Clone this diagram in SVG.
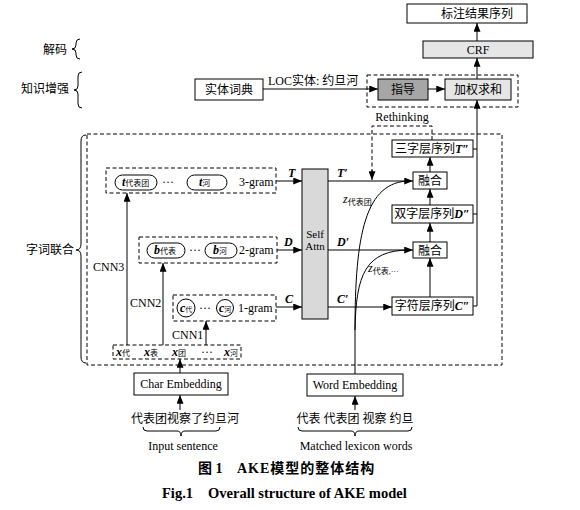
<svg xmlns="http://www.w3.org/2000/svg" width="580" height="510" viewBox="0 0 580 510">
<defs>
<marker id="ah" viewBox="0 0 10 8" refX="10" refY="4" markerWidth="9" markerHeight="7" orient="auto" markerUnits="userSpaceOnUse"><path d="M0,0 L10,4 L0,8 z" fill="#000"/></marker>
<style>
text{font-family:"Liberation Serif","Noto Sans CJK SC",serif;font-size:12px;fill:#000}
.box{fill:#fff;stroke:#000;stroke-width:1}
.g1{fill:#e6e6e6;stroke:#000;stroke-width:1}
.g2{fill:#a6a6a6;stroke:#000;stroke-width:1}
.g3{fill:#d9d9d9;stroke:#000;stroke-width:1}
.dash{fill:none;stroke:#000;stroke-width:1;stroke-dasharray:4 2.5}
.ln{fill:none;stroke:#000;stroke-width:1}
.arr{fill:none;stroke:#000;stroke-width:1;marker-end:url(#ah)}
.bi{font-weight:bold;font-style:italic}
.sub{font-size:8px}
.c{text-anchor:middle}
.cap{font-weight:bold}
</style>
</defs>
<rect width="580" height="510" fill="#fff"/>

<g id="labels">
<text x="67" y="54" text-anchor="end">解码</text>
<path class="ln" d="M80,39 Q76,39 76,43 L76,45 Q76,49 72,49 Q76,49 76,53 L76,55 Q76,59 80,59"/>
<text x="69" y="93" text-anchor="end">知识增强</text>
<path class="ln" d="M82,72 Q78,72 78,76 L78,86 Q78,90 74,90 Q78,90 78,94 L78,104 Q78,108 82,108"/>
<text x="74" y="254" text-anchor="end">字词联合</text>
<path class="ln" d="M86,135 Q81,135 81,141 L81,244 Q81,250 76,250 Q81,250 81,256 L81,357 Q81,363 86,363"/>
</g>

<g id="output">
<rect class="box" x="407" y="4" width="120" height="19"/>
<text x="441" y="18">标注结果序列</text>
</g>
<g id="crf">
<rect class="g1" x="423" y="41" width="110" height="17"/>
<text x="478" y="54" class="c">CRF</text>
</g>

<g id="knowledge">
<rect class="dash" x="367" y="75" width="151" height="32"/>
</g>
<g id="dict">
<rect class="box" x="195" y="79" width="68" height="21"/>
<text x="229" y="94" class="c">实体词典</text>
</g>
<g id="guide">
<rect class="g2" x="378" y="79" width="50" height="21"/>
<text x="403" y="94" class="c">指导</text>
</g>
<g id="wsum">
<rect class="g1" x="445" y="79" width="66" height="21"/>
<text x="478" y="94" class="c">加权求和</text>
</g>

<g id="joint">
<rect class="dash" x="87" y="134" width="415" height="231"/>
</g>

<g id="gram3">
<rect class="dash" x="106" y="168" width="170" height="25"/>
<rect class="box" x="115" y="175" width="42" height="15" rx="7.5"/>
<text x="122" y="186"><tspan class="bi">t</tspan><tspan class="sub">代表团</tspan></text>
<text x="168" y="186" class="c">···</text>
<rect class="box" x="187" y="175" width="40" height="15" rx="7.5"/>
<text x="199" y="186"><tspan class="bi">t</tspan><tspan class="sub">河</tspan></text>
<text x="239" y="186">3-gram</text>
</g>

<g id="gram2">
<rect class="dash" x="139" y="237" width="138" height="26"/>
<rect class="box" x="147" y="243" width="38" height="15" rx="7.5"/>
<text x="154" y="254"><tspan class="bi">b</tspan><tspan class="sub">代表</tspan></text>
<text x="195" y="254" class="c">···</text>
<rect class="box" x="205" y="243" width="32" height="15" rx="7.5"/>
<text x="213" y="254"><tspan class="bi">b</tspan><tspan class="sub">河</tspan></text>
<text x="239" y="254">2-gram</text>
</g>

<g id="gram1">
<rect class="dash" x="173" y="295" width="103" height="26"/>
<circle class="box" cx="186" cy="308" r="9"/>
<text x="180" y="312"><tspan class="bi">c</tspan><tspan style="font-size:7px">代</tspan></text>
<text x="205" y="312" class="c">···</text>
<circle class="box" cx="225" cy="308" r="8.5"/>
<text x="219" y="312"><tspan class="bi">c</tspan><tspan style="font-size:7px">河</tspan></text>
<text x="238" y="312">1-gram</text>
</g>

<g id="xrow">
<rect class="dash" x="113" y="345" width="128" height="14"/>
<text x="116" y="356"><tspan class="bi">x</tspan><tspan class="sub">代</tspan></text>
<text x="144" y="356"><tspan class="bi">x</tspan><tspan class="sub">表</tspan></text>
<text x="172" y="356"><tspan class="bi">x</tspan><tspan class="sub">团</tspan></text>
<text x="207" y="356" class="c">···</text>
<text x="224" y="356"><tspan class="bi">x</tspan><tspan class="sub">河</tspan></text>
</g>

<g id="selfattn">
<rect class="g3" x="302" y="169" width="26" height="150"/>
<text x="315" y="238" class="c" style="font-size:11px">Self</text>
<text x="315" y="250" class="c" style="font-size:11px">Attn</text>
</g>

<g id="fuse1">
<rect class="box" x="413" y="172" width="34" height="17"/>
<text x="430" y="185" class="c">融合</text>
</g>
<g id="fuse2">
<rect class="box" x="413" y="242" width="34" height="16"/>
<text x="430" y="255" class="c">融合</text>
</g>
<g id="seqT">
<rect class="box" x="392" y="140" width="81" height="17"/>
<text x="432" y="153" class="c">三字层序列<tspan class="bi">T″</tspan></text>
</g>
<g id="seqD">
<rect class="box" x="392" y="205" width="81" height="18"/>
<text x="432" y="218" class="c">双字层序列<tspan class="bi">D″</tspan></text>
</g>
<g id="seqC">
<rect class="box" x="392" y="297" width="81" height="18"/>
<text x="432" y="310" class="c">字符层序列<tspan class="bi">C″</tspan></text>
</g>

<g id="charemb">
<rect class="box" x="134" y="373" width="94" height="22"/>
<text x="181" y="388" class="c">Char Embedding</text>
</g>
<g id="wordemb">
<rect class="box" x="307" y="374" width="96" height="22"/>
<text x="355" y="389" class="c">Word Embedding</text>
</g>

<g id="inputs">
<text x="185" y="423" class="c">代表团视察了约旦河</text>
<path class="ln" d="M143,427 Q143,431 147,431 L177,431 Q181,431 181,436 Q181,431 185,431 L216,431 Q220,431 220,427"/>
<text x="183" y="450" class="c">Input sentence</text>
<text x="355" y="423" class="c">代表 代表团 视察 约旦</text>
<path class="ln" d="M298,427 Q298,431 302,431 L351,431 Q355,431 355,436 Q355,431 359,431 L408,431 Q412,431 412,427"/>
<text x="356" y="450" class="c">Matched lexicon words</text>
</g>

<g id="caption">
<text x="198" y="473" class="cap" style="font-size:14px">图 1</text>
<text x="237" y="473" class="cap" style="font-size:14px;letter-spacing:1px">AKE模型的整体结构</text>
<text x="162" y="498" class="cap" style="font-size:14.5px">Fig.1</text>
<text x="208" y="498" class="cap" style="font-size:14.5px">Overall structure of AKE model</text>
</g>

<g id="connectors">
<path class="arr" d="M477,41 V23"/>
<path class="arr" d="M477,79 V58"/>
<path class="arr" d="M263,89 H378"/>
<text x="268" y="85">LOC实体: 约旦河</text>
<path class="arr" d="M428,89 H445"/>
<path class="ln" d="M473,149 H477 M473,214 H477"/>
<path class="arr" d="M473,306 H477 V100"/>
<path class="dash" d="M432,140 V126 H372 V172"/>
<path class="arr" d="M372,170 V180"/>
<text x="402" y="121" class="c">Rethinking</text>
<path class="arr" d="M276,181 H302"/>
<path class="arr" d="M277,250 H302"/>
<path class="arr" d="M276,307 H302"/>
<text x="288" y="177" class="bi">T</text>
<text x="284" y="246" class="bi">D</text>
<text x="285" y="303" class="bi">C</text>
<path class="arr" d="M328,181 H413"/>
<path class="arr" d="M328,250 H413"/>
<path class="arr" d="M328,307 H392"/>
<text x="337" y="177" class="bi">T′</text>
<text x="337" y="246" class="bi">D′</text>
<text x="337" y="303" class="bi">C′</text>
<path class="arr" d="M430,297 V258"/>
<path class="arr" d="M430,242 V223"/>
<path class="arr" d="M430,205 V189"/>
<path class="arr" d="M430,172 V157"/>
<path class="ln" d="M355,374 V330 C355,235 365,181 410,181"/>
<path class="ln" d="M355,330 C356,275 365,250 410,250"/>
<text x="343" y="203"><tspan font-style="italic">z</tspan><tspan class="sub" dy="2">代表团</tspan></text>
<text x="368" y="272"><tspan font-style="italic">z</tspan><tspan class="sub" dy="2">代表,···</tspan></text>
<path class="arr" d="M127,345 V193"/>
<path class="arr" d="M163,345 V263"/>
<path class="arr" d="M206,345 V321"/>
<text x="93" y="271">CNN3</text>
<text x="130" y="307">CNN2</text>
<text x="172" y="339">CNN1</text>
<path class="arr" d="M180,373 V359"/>
<path class="arr" d="M180,410 V395"/>
<path class="arr" d="M355,410 V396"/>
</g>
</svg>
